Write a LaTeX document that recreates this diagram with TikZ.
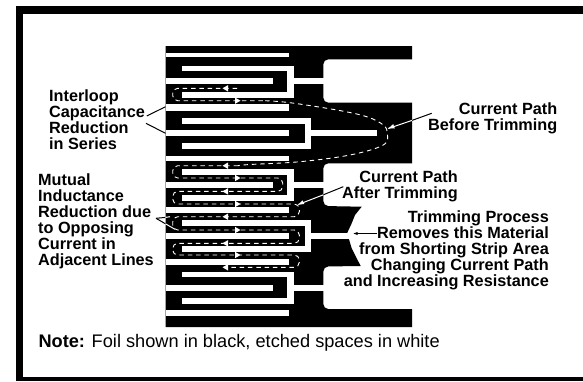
\documentclass[tikz,border=0pt]{standalone}
\usepackage{fontspec}
\setmainfont{Liberation Sans}
\begin{document}
\begin{tikzpicture}[x=1pt,y=-1pt,
  lbl/.style={inner sep=0pt,font=\fontsize{16.25}{16}\selectfont\bfseries},
  etch/.style={fill=white,draw=none},
  currentpath/.style={draw=white,line width=0.9pt,dash pattern=on 4.5pt off 3.8pt},
  leaderb/.style={draw=black,line width=1pt},
  leaderw/.style={draw=white,line width=1pt},
  mk/.style={fill=white,draw=none}]
\useasboundingbox (0,0) rectangle (583,381);
\fill[white] (0,0) rectangle (583,381);
% frame
\fill[black] (15.7,6) rectangle (583,14);
\fill[black] (15.7,6) rectangle (23.3,381);
\fill[black] (15.7,377.3) rectangle (583,381);
% foil
\fill[black] (165.5,46) -- (412,46) -- (412,59.3)
  [rounded corners=5pt] -- (323.3,59.3) -- (323.3,102.7) [sharp corners] -- (412,102.7) -- (412,163.3)
  [rounded corners=5pt] -- (323.3,163.3) -- (323.3,206) [sharp corners] -- (361.7,206.7)
  -- (355,215) -- (351.7,223.3) -- (347.3,232.7) -- (349,239.3) -- (351.7,248.3) -- (356.7,258.3) -- (360.7,266)
  [rounded corners=5pt] -- (323.3,266.5) -- (323.3,309) [sharp corners] -- (412,309) -- (412,327) -- (165.5,327) -- cycle;
% straight etched lines
\foreach \ya/\yb in {52.7/57.3,104/110.7,155.5/161.3,207.3/212.7,259.3/264.7,310/315.7}
  \fill[etch] (165.5,\ya) rectangle (289.3,\yb);
% narrow combs
\foreach \t/\b/\ca/\cb in {65.7/97.7/78.3/84.3,169.3/200.7/181.7/187.7,271.7/304/285/290.7}{
  \fill[etch] (182,\t) rectangle (294,\t+5.6);
  \fill[etch] (182,\b-6) rectangle (294,\b);
  \fill[etch] (286.7,\t) rectangle (294,\b);
  \fill[etch] (165.5,\ca) rectangle (272.7,\cb);
  \fill[etch] (294,\ca) rectangle (323.5,\cb);
}
% wide combs
\foreach \t/\b/\ca/\cb/\e in {117.7/149/130/136.3/377.3,220/252/233/239/349}{
  \fill[etch] (182,\t) rectangle (310.7,\t+5.8);
  \fill[etch] (182,\b-5.8) rectangle (310.7,\b);
  \fill[etch] (305,\t) rectangle (310.7,\b);
  \fill[etch] (165.5,\ca) rectangle (289.3,\cb);
  \fill[etch] (310.7,\ca) rectangle (\e,\cb);
}
% current paths
\draw[currentpath,rounded corners=5pt] (237,88.3) -- (172.7,88.3) -- (172.7,100.7) -- (265,100.7);
\draw[currentpath] plot[smooth,tension=.6] coordinates {(265,100.7)(290,102.7)(336.7,110)(366.7,116.7)(383.3,125)(387.3,133.3)(383.3,145)(350,155)(300,161.7)(250,164.5)(238,165.7)};
\draw[currentpath,rounded corners=5pt] (238,165.7) -- (172.7,165.7) -- (172.7,178) -- (282.7,178) -- (282.7,191.4) -- (172.7,191.4) -- (172.7,204) -- (299.3,204) -- (299.3,216.7) -- (172.7,216.7) -- (172.7,230) -- (299.3,230) -- (299.3,243.3) -- (172.7,243.3) -- (172.7,255) -- (299.3,255) -- (299.3,267.3) -- (225,267.3);
% direction marks
\foreach \y in {88.3,165.7,191.4,216.7,243.3,267.3}
  \fill[mk] (222.5,\y) -- (228,\y-3.2) -- (228,\y+3.2) -- cycle;
\foreach \y in {100.7,178,204,230,255}
  \fill[mk] (240.5,\y) -- (235,\y-3.2) -- (235,\y+3.2) -- cycle;
% labels
\node[lbl,anchor=north west,align=left] (interloop) at (49,90) {Interloop\\Capacitance\\Reduction\\in Series};
\node[lbl,anchor=north west,align=left] (mutual) at (38,173.3) {Mutual\\Inductance\\Reduction due\\to Opposing\\Current in\\Adjacent Lines};
\node[lbl,anchor=north east,align=right] (before) at (557.5,102.3) {Current Path\\Before Trimming};
\node[lbl,anchor=north east,align=right] (after) at (458,170.3) {Current Path\\After Trimming};
\node[lbl,anchor=north east,align=right] (trim) at (549,210.3) {Trimming Process\\Removes this Material\\from Shorting Strip Area\\Changing Current Path\\and Increasing Resistance};
\node[anchor=base west,inner sep=0pt,font=\fontsize{18.2}{18}\selectfont] (note) at (38.3,347.5) {\textbf{Note:} Foil shown in black, etched spaces in white};
% leaders
\coordinate (lA) at (146.8,116);
\coordinate (lAe) at (165.5,106.7);
\coordinate (lB) at (146,123.3);
\coordinate (lBe) at (165.5,133.3);
\draw[leaderb] (lA) -- (lAe);
\draw[leaderb] (lB) -- (lBe);
\coordinate (bS) at (431.7,113.3);
\coordinate (bM) at (412,120.4);
\coordinate (bT) at (388.3,128.5);
\draw[leaderb] (bS) -- (bM);
\draw[leaderw] (bM) -- (bT);
\fill[white] (bT) -- ++(6.5,-0.2) -- ++(-1.6,-4.2) -- cycle;
\coordinate (aS) at (343.3,186.7);
\coordinate (aM) at (323.3,194.8);
\coordinate (aT) at (298.3,204.5);
\draw[leaderb] (aS) -- (aM);
\draw[leaderw] (aM) -- (aT);
\fill[white] (aT) -- ++(6,-0.4) -- ++(-1.8,-3.8) -- cycle;
\coordinate (mS) at (156,218.3);
\coordinate (mA) at (165.5,217.4);
\coordinate (mAe) at (170,216.7);
\coordinate (mB) at (165.5,223.8);
\coordinate (mBe) at (175,229.3);
\draw[leaderb] (mS) -- (mA);
\draw[leaderb] (mS) -- (mB);
\draw[leaderw] (mA) -- (mAe);
\draw[leaderw] (mB) -- (mBe);
\coordinate (tS) at (377,233.5);
\coordinate (tT) at (353.5,233.5);
\draw[leaderb,line width=.8pt] (tS) -- (tT);
\fill[black] (tT) -- ++(4,-1.5) -- ++(0,3) -- cycle;
\end{tikzpicture}
\end{document}
